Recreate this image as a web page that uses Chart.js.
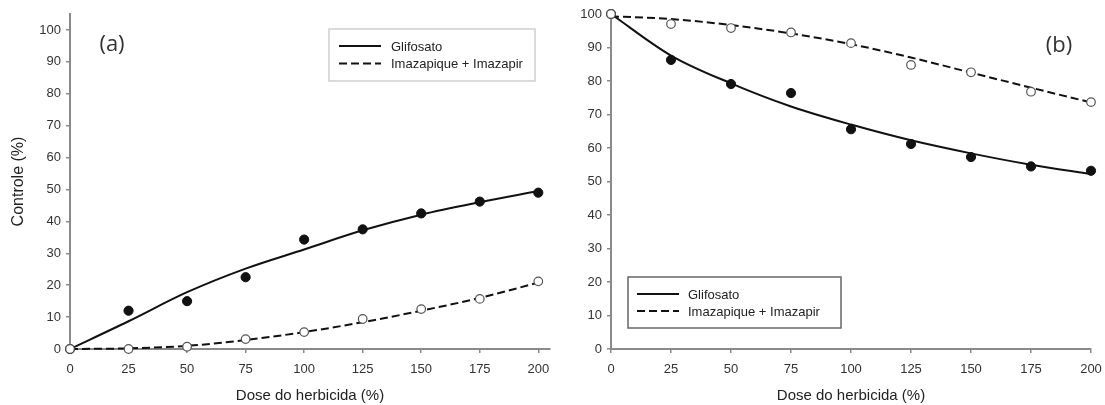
<!DOCTYPE html>
<html>
<head>
<meta charset="utf-8">
<script src="https://cdn.jsdelivr.net/npm/chart.js@4.4.1/dist/chart.umd.min.js"></script>
<style>
html,body{margin:0;padding:0;background:#fff;}
#wrap{position:relative;width:1105px;height:405px;overflow:hidden;}
.panel{position:absolute;top:0;height:405px;}
#pa{left:0;width:560px;}
#pb{left:560px;width:545px;}
</style>
</head>
<body>
<div id="wrap">
  <div class="panel" id="pa"><canvas id="chartA"></canvas></div>
  <div class="panel" id="pb"><canvas id="chartB"></canvas></div>
</div>
<script>
// data
const doses = [0, 25, 50, 75, 100, 125, 150, 175, 200];
const seriesNames = ['Glifosato', 'Imazapique + Imazapir'];
const xTicks = [0, 25, 50, 75, 100, 125, 150, 175, 200];
const yTicks = [0, 10, 20, 30, 40, 50, 60, 70, 80, 90, 100];

// panel (a)
const glifoObsA = [0, 12, 15, 22.5, 34.3, 37.5, 42.5, 46.2, 49];
const imazaObsA = [0, 0, 0.7, 3.1, 5.3, 9.4, 12.5, 15.7, 21.2];
const glifoFitA = [0, 8.7, 17.8, 25.2, 31.2, 37.2, 42.1, 46, 49.5];
const imazaFitA = [0, 0.2, 1.0, 2.8, 5.3, 8.4, 12, 16, 20.8];

// panel (b)
const glifoObsB = [100, 86.3, 79.1, 76.4, 65.6, 61.2, 57.3, 54.5, 53.2];
const imazaObsB = [100, 97, 95.8, 94.5, 91.3, 84.8, 82.6, 76.8, 73.7];
const glifoFitB = [100, 87.6, 79.3, 72.4, 67, 62.3, 58.4, 55, 52.2];
const imazaFitB = [99.3, 98.5, 96.7, 94.2, 91, 87, 82.5, 78, 73.6];

const fam = '"Liberation Sans", Arial, sans-serif';
const axisCol = '#8a8a8a';

function pts(ys){ return doses.map((d,i)=>({x:d, y:ys[i]})); }

function makeDatasets(gObs, iObs, gFit, iFit){
  return [
    {label:seriesNames[1]+' obs', data:pts(iObs), order:0, showLine:false,
     pointRadius:4.3, pointBackgroundColor:'#fff', pointBorderColor:'#555', pointBorderWidth:1.2, clip:false},
    {label:seriesNames[0]+' obs', data:pts(gObs), order:1, showLine:false,
     pointRadius:4.6, pointBackgroundColor:'#111', pointBorderColor:'#111', pointBorderWidth:1, clip:false},
    {label:seriesNames[0], data:pts(gFit), order:2, showLine:true, fit:true,
     borderColor:'#111', borderWidth:2, pointRadius:0, cubicInterpolationMode:'monotone', clip:false},
    {label:seriesNames[1], data:pts(iFit), order:3, showLine:true, fit:true,
     borderColor:'#111', borderWidth:2, borderDash:[8,4], pointRadius:0, cubicInterpolationMode:'monotone', clip:false}
  ];
}

// legend drawn inside the plot, in a box
const boxLegend = {
  id:'boxLegend',
  afterDatasetsDraw(chart, args, o){
    const ctx = chart.ctx;
    ctx.save();
    ctx.fillStyle = '#fff';
    ctx.fillRect(o.x, o.y, o.w, o.h);
    ctx.strokeStyle = o.border;
    ctx.lineWidth = 1.5;
    ctx.strokeRect(o.x, o.y, o.w, o.h);
    const fits = chart.data.datasets.filter(d=>d.fit);
    fits.forEach((d,i)=>{
      const y = o.y + o.first + i*o.gap;
      ctx.beginPath();
      ctx.setLineDash(d.borderDash || []);
      ctx.strokeStyle = d.borderColor;
      ctx.lineWidth = 2;
      ctx.moveTo(o.x + o.lx, y);
      ctx.lineTo(o.x + o.lx + 42, y);
      ctx.stroke();
      ctx.setLineDash([]);
      ctx.fillStyle = '#222';
      ctx.font = '13px ' + fam;
      ctx.textBaseline = 'middle';
      ctx.fillText(d.label, o.x + o.tx, y + 1);
    });
    ctx.restore();
  }
};

const panelTag = {
  id:'panelTag',
  afterDraw(chart, args, o){
    const ctx = chart.ctx;
    ctx.save();
    ctx.fillStyle = '#333';
    ctx.font = '22px "Open Sans", "DejaVu Sans", sans-serif';
    ctx.textAlign = 'center';
    ctx.textBaseline = 'middle';
    ctx.fillText(o.text, o.x, o.y);
    ctx.restore();
  }
};

function makeScales(o){
  return {
    x:{
      type:'linear', min:0, max:o.xMax,
      afterBuildTicks:ax=>{ ax.ticks = xTicks.map(v=>({value:v})); },
      afterFit:ax=>{ ax.height = 56; ax.paddingLeft = 0; ax.paddingRight = 0; },
      grid:{drawOnChartArea:false, drawTicks:true, tickLength:4, color:axisCol, lineWidth:1.5},
      border:{display:true, color:axisCol, width:2},
      ticks:{color:'#333', font:{family:fam, size:13}, padding:9, maxRotation:0, autoSkip:false},
      title:{display:true, text:'Dose do herbicida (%)', color:'#222', font:{family:fam, size:15}, padding:{top:0, bottom:0}}
    },
    y:{
      type:'linear', min:0, max:o.yMax,
      afterBuildTicks:ax=>{ ax.ticks = yTicks.map(v=>({value:v})); },
      afterFit:ax=>{ ax.width = o.yWidth; ax.paddingTop = 0; ax.paddingBottom = 0; },
      grid:{drawOnChartArea:false, drawTicks:true, tickLength:4, color:axisCol, lineWidth:1.5},
      border:{display:true, color:axisCol, width:2},
      ticks:{color:'#333', font:{family:fam, size:13}, padding:5, autoSkip:false},
      title:{display:o.yTitle, text:'Controle (%)', color:'#222', font:{family:fam, size:16}, padding:{top:9, bottom:0}}
    }
  };
}

function baseOptions(o){
  return {
    responsive:true, maintainAspectRatio:false, animation:false, events:[],
    layout:{padding:{left:0, top:14, right:o.padRight, bottom:0}},
    scales:makeScales(o),
    plugins:{
      legend:{display:false}, tooltip:{enabled:false},
      boxLegend:o.legend,
      panelTag:o.tag
    }
  };
}

new Chart(document.getElementById('chartA'), {
  type:'scatter',
  data:{datasets:makeDatasets(glifoObsA, imazaObsA, glifoFitA, imazaFitA)},
  options:baseOptions({
    xMax:205, yMax:105, yWidth:70, padRight:10, yTitle:true,
    legend:{x:329, y:29, w:206, h:52, first:17, gap:17.5, lx:10, tx:62, border:'#cfcfcf'},
    tag:{text:'(a)', x:112, y:45}
  }),
  plugins:[boxLegend, panelTag]
});

new Chart(document.getElementById('chartB'), {
  type:'scatter',
  data:{datasets:makeDatasets(glifoObsB, imazaObsB, glifoFitB, imazaFitB)},
  options:baseOptions({
    xMax:200, yMax:100, yWidth:51, padRight:14, yTitle:false,
    legend:{x:68, y:277, w:213, h:51, first:17, gap:17, lx:9, tx:60, border:'#666'},
    tag:{text:'(b)', x:499, y:46}
  }),
  plugins:[boxLegend, panelTag]
});
</script>
</body>
</html>
